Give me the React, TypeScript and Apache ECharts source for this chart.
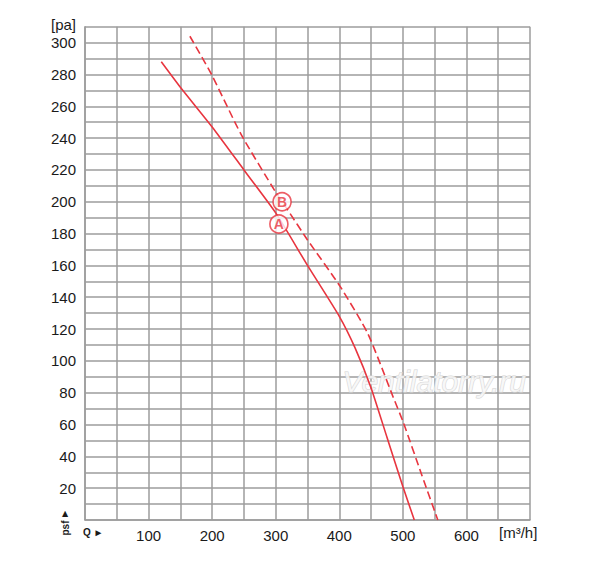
import React, { useEffect, useRef } from "react";
import * as echarts from "echarts";

const Q_A = [120, 150, 200, 250, 300, 350, 400, 425, 450, 475, 500, 518];
const P_A = [288, 272, 247, 220, 193, 160, 128, 108, 83, 52, 21, 0];
const Q_B = [165, 199, 246, 300, 317, 350, 401, 445, 485, 501, 530, 555];
const P_B = [304, 280, 242, 206, 196, 176, 147, 117, 77, 61, 28, 0];
const MARK_NAMES = ["A", "B"];
const MARK_Q = [305, 310];
const MARK_P = [186, 200];
const X_TICK_LABELS = [100, 200, 300, 400, 500, 600];
const Y_TICK_LABELS = [20, 40, 60, 80, 100, 120, 140, 160, 180, 200, 220, 240, 260, 280, 300];

const RED = "#e8353f";
const GRID = "#9c9c9c";
const FONT = "Liberation Sans, Arial, sans-serif";

export default function App() {
  const ref = useRef<HTMLDivElement>(null);
  useEffect(() => {
    if (!ref.current) return;
    const chart = echarts.init(ref.current, null, { renderer: "svg" });
    chart.setOption({
      animation: false,
      backgroundColor: "#ffffff",
      grid: { left: 85, right: 70, top: 26.7, bottom: 44, containLabel: false },
      xAxis: {
        type: "value",
        min: 0,
        max: 700,
        interval: 50,
        axisLine: { show: true, lineStyle: { color: GRID, width: 1.5 } },
        axisTick: { show: false },
        axisLabel: {
          margin: 8,
          fontSize: 15,
          fontFamily: FONT,
          color: "#1a1a1a",
          formatter: (v: number) => (X_TICK_LABELS.includes(v) ? String(v) : ""),
        },
        splitLine: { show: true, lineStyle: { color: GRID, width: 1.5 } },
      },
      yAxis: {
        type: "value",
        min: 0,
        max: 310,
        interval: 10,
        axisLine: { show: true, lineStyle: { color: GRID, width: 1.5 } },
        axisTick: { show: false },
        axisLabel: {
          margin: 9,
          fontSize: 15,
          fontFamily: FONT,
          color: "#1a1a1a",
          formatter: (v: number) => (Y_TICK_LABELS.includes(v) ? String(v) : ""),
        },
        splitLine: { show: true, lineStyle: { color: GRID, width: 1.5 } },
      },
      graphic: [
        {
          type: "text",
          left: 342,
          top: 366,
          z: 1,
          style: {
            text: "Ventilatorry.ru",
            font: "italic 30px Liberation Sans, Arial, sans-serif",
            fill: "rgba(248,248,248,0.85)",
            stroke: "#d4d4d4",
            lineWidth: 1,
          },
        },
        {
          type: "text",
          x: 76,
          y: 24,
          style: {
            text: "[pa]",
            font: "15px Liberation Sans, Arial, sans-serif",
            fill: "#1a1a1a",
            align: "right",
            verticalAlign: "middle",
          },
        },
        {
          type: "text",
          x: 499,
          y: 532,
          style: {
            text: "[m³/h]",
            font: "15px Liberation Sans, Arial, sans-serif",
            fill: "#1a1a1a",
            align: "left",
            verticalAlign: "middle",
          },
        },
        {
          type: "text",
          x: 83,
          y: 532,
          style: {
            text: "Q ►",
            font: "bold 10px Liberation Sans, Arial, sans-serif",
            fill: "#1a1a1a",
            align: "left",
            verticalAlign: "middle",
          },
        },
        {
          type: "text",
          x: 65,
          y: 528,
          rotation: Math.PI / 2,
          style: {
            text: "psf",
            font: "bold 10px Liberation Sans, Arial, sans-serif",
            fill: "#1a1a1a",
            align: "center",
            verticalAlign: "middle",
          },
        },
        {
          type: "text",
          x: 65,
          y: 513,
          style: {
            text: "▲",
            font: "8px DejaVu Sans, sans-serif",
            fill: "#1a1a1a",
            align: "center",
            verticalAlign: "middle",
          },
        },
      ],
      series: [
        {
          type: "line",
          name: "A",
          data: Q_A.map((q, i) => [q, P_A[i]]),
          showSymbol: false,
          smooth: 0.2,
          lineStyle: { color: RED, width: 1.6 },
          z: 3,
        },
        {
          type: "line",
          name: "B",
          data: Q_B.map((q, i) => [q, P_B[i]]),
          showSymbol: false,
          smooth: 0.2,
          lineStyle: { color: RED, width: 1.6, type: [8, 4] },
          z: 3,
        },
        {
          type: "scatter",
          data: MARK_NAMES.map((n, i) => ({ name: n, value: [MARK_Q[i], MARK_P[i]] })),
          symbol: "circle",
          symbolSize: 18,
          itemStyle: { color: "#ffffff", borderColor: RED, borderWidth: 1.6 },
          label: {
            show: true,
            position: "inside",
            formatter: (p: any) => p.name,
            color: RED,
            fontWeight: "bold",
            fontSize: 14,
            fontFamily: FONT,
          },
          z: 5,
        },
      ],
    });
    return () => chart.dispose();
  }, []);
  return (
    <div
      ref={ref}
      style={{ position: "fixed", left: 0, top: 0, width: 600, height: 564 }}
    />
  );
}
